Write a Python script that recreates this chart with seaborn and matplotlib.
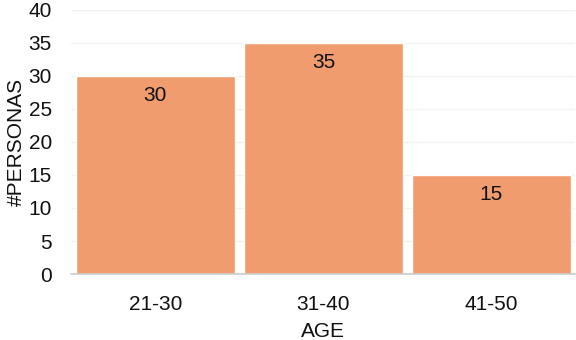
import matplotlib
matplotlib.use("Agg")
import matplotlib.pyplot as plt
import seaborn as sns
import pandas as pd

# data
ages = ['21-30', '31-40', '41-50']
personas = [30, 35, 15]

df = pd.DataFrame({'AGE': ages, 'PERSONAS': personas})

sns.set_style('white')
plt.rcParams['font.family'] = ['Liberation Sans', 'DejaVu Sans']

fig = plt.figure(figsize=(5.76, 3.4), dpi=100)
ax = fig.add_axes([0.124, 0.194, 0.875, 0.777])

sns.barplot(data=df, x='AGE', y='PERSONAS', color='#F09C6E', saturation=1,
            width=0.95, ax=ax, zorder=2)

for i, v in enumerate(personas):
    ax.text(i, v - 3.0, str(v), ha='center', va='center', fontsize=15, color='#111111')

ax.set_ylim(0, 40)
ax.set_xlim(-0.5, 2.5)
ax.set_yticks(range(0, 41, 5))
ax.yaxis.grid(True, color='#f2f2f2', linewidth=1, zorder=0)
ax.set_axisbelow(True)
for s in ['top', 'right', 'left']:
    ax.spines[s].set_visible(False)
ax.spines['bottom'].set_color('#cccccc')
ax.spines['bottom'].set_linewidth(1.2)
ax.tick_params(axis='both', length=0, labelsize=15, colors='#111111')
ax.tick_params(axis='y', pad=14)
ax.tick_params(axis='x', pad=15)
ax.set_xlabel('AGE', fontsize=15, color='#111111', labelpad=6)
ax.set_ylabel('#PERSONAS', fontsize=15, color='#111111', labelpad=2)

fig.savefig('out.png', dpi=100)
